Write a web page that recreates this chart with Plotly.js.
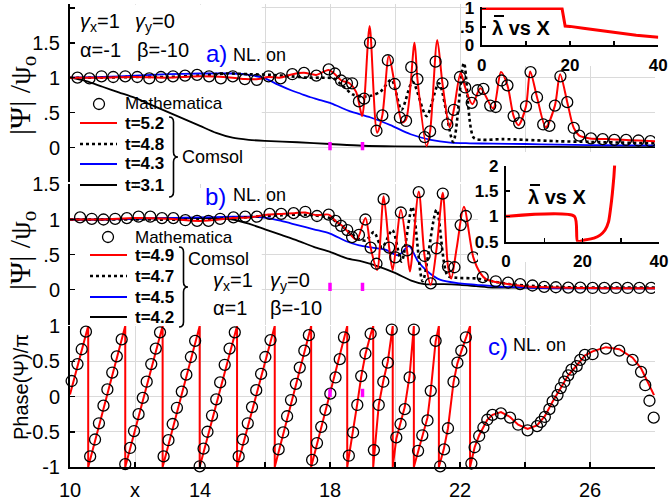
<!DOCTYPE html>
<html><head><meta charset="utf-8">
<script src="https://cdn.plot.ly/plotly-3.0.1.min.js"></script>
<style>html,body{margin:0;padding:0;background:#fff}#chart{width:669px;height:504px}</style>
</head><body><div id="chart"></div>
<script>
// ---------------- DATA ----------------
// x tick labels (shared x axis); minor ticks carry unlabeled grid positions
const xTickVals = [10,12,14,18,22,26];
const xTickText = ['10','x','14','18','22','26'];
const xMinorVals = [16,20,24,28];

// Panel a) |Psi|/psi_o
const aMathX = [10.23,10.6,10.97,11.33,11.7,12.07,12.44,12.8,13.17,13.54,13.91,14.28,14.64,15.01,15.38,15.75,16.11,16.48,16.84,17.2,17.58,17.96,18.15,18.34,18.52,18.68,18.89,19.05,19.23,19.43,19.61,19.78,19.99,20.15,20.34,20.5,20.69,20.91,21.08,21.25,21.46,21.61,21.81,22.0,22.16,22.36,22.54,22.72,22.93,23.1,23.28,23.46,23.65,23.82,24.03,24.17,24.37,24.56,24.75,24.92,25.09,25.3,25.5,25.67,26.03,26.39,26.75,27.11,27.49,27.86];
const aMathY = [1.0,0.99,1.02,1.01,1.02,1.01,0.99,1.01,1.02,1.03,1.04,1.02,0.99,1.02,0.98,0.97,1.02,0.99,1.05,1.07,1.03,1.12,1.06,0.96,0.92,0.92,0.66,0.70,1.50,0.24,0.46,1.25,0.91,0.43,0.38,1.15,0.98,0.15,0.23,1.23,0.92,0.33,0.54,1.01,0.86,0.64,0.82,0.84,0.60,0.58,0.96,0.89,0.45,0.35,0.59,1.08,0.72,0.33,0.31,0.60,1.02,0.65,0.28,0.17,0.13,0.12,0.11,0.11,0.10,0.09];
const aRedX = [10,11,12,13,14,15,15.4,15.8,16.1,16.45,16.85,17.2,17.58,17.95,18.15,18.35,18.6,18.8,18.99,19.06,19.22,19.45,19.61,19.81,19.99,20.22,20.34,20.6,20.69,20.97,21.08,21.3,21.46,21.68,21.81,22.02,22.16,22.38,22.63,23.02,23.26,23.46,23.65,23.8,24.03,24.16,24.37,24.64,24.92,25.08,25.3,25.5,25.67,26,26.5,27,27.5,28];
const aRedY = [1.0,1.0,1.01,1.0,1.02,1.0,0.98,0.98,1.01,1.0,1.05,1.07,1.04,1.11,1.05,0.96,0.92,0.8,0.45,0.7,1.74,0.21,0.46,1.31,0.91,0.36,0.4,1.5,0.98,0.02,0.23,1.54,0.92,0.29,0.54,1.07,0.86,0.62,0.85,0.56,1.08,0.89,0.45,0.32,0.59,1.09,0.72,0.29,0.6,1.05,0.65,0.28,0.17,0.13,0.12,0.11,0.1,0.09];
const aDotX = [10,11,12,13,14,14.8,15.5,16.2,16.8,17.3,17.8,18.1,18.4,18.7,19.0,19.25,19.55,19.89,20.2,20.54,20.97,21.35,21.79,22.12,22.42,22.7,23.3,24,25,26,27,28];
const aDotY = [1.0,1.0,1.01,1.01,1.03,1.06,1.05,1.04,1.02,1.0,1.0,0.99,0.88,0.76,0.73,0.74,0.8,0.97,0.54,0.94,0.45,0.92,0.08,1.21,0.14,0.11,0.12,0.11,0.09,0.08,0.07,0.06];
const aBlueX = [10,11,12,13,14,15,15.5,16,16.4,16.8,17.1,17.4,17.7,18,18.3,18.6,19.25,19.86,20.48,21.1,21.7,22.3,23,24,25,26,27,28];
const aBlueY = [1.0,1.01,1.03,1.05,1.06,1.06,1.04,0.99,0.9,0.82,0.77,0.72,0.68,0.64,0.58,0.52,0.43,0.32,0.19,0.11,0.07,0.06,0.055,0.05,0.04,0.035,0.03,0.03];
const aBlackX = [10,10.5,11,11.5,12,12.5,13,13.5,14,14.5,15,15.5,16,17,18,19,20,22,24,26,28];
const aBlackY = [1.0,0.95,0.87,0.79,0.71,0.61,0.51,0.41,0.31,0.21,0.14,0.11,0.095,0.075,0.05,0.025,0.015,0.01,0.01,0.005,0.005];

// Panel b)
const bMathX = [10.31,10.67,11.03,11.39,11.75,12.11,12.47,12.83,13.18,13.55,13.91,14.26,14.62,15.03,15.39,15.75,16.14,16.5,16.88,17.24,17.6,17.96,18.17,18.34,18.53,18.68,18.89,19.09,19.25,19.43,19.65,19.82,20.01,20.18,20.37,20.73,20.91,21.1,21.28,21.47,21.63,21.83,22.02,22.18,22.41,22.7,23.1,23.48,23.85,24.23,24.59,24.95,25.33,25.7,26.08,26.44,26.8,27.16,27.52,27.88];
const bMathY = [1.03,1.01,1.0,1.01,1.02,1.04,1.04,1.02,1.02,0.99,0.98,0.98,1.01,1.03,1.04,1.04,1.08,1.08,1.09,1.11,1.05,1.07,0.98,0.91,0.85,0.75,0.78,1.0,0.6,0.37,1.29,0.6,0.46,1.1,0.56,1.39,0.48,0.09,0.59,1.37,0.33,0.32,0.92,1.05,0.46,0.18,0.12,0.1,0.08,0.06,0.04,0.035,0.03,0.03,0.025,0.025,0.025,0.025,0.025,0.025];
const bRedX = [10,11,12,13,14,15,15.5,16.1,16.5,16.9,17.24,17.6,17.96,18.17,18.4,18.6,18.82,19.09,19.25,19.45,19.65,19.82,19.93,20.18,20.37,20.46,20.73,20.91,21.1,21.28,21.47,21.63,21.73,21.9,22.12,22.41,22.62,22.8,23.1,23.5,24,25,26,27,28];
const bRedY = [1.0,1.0,1.02,1.01,0.98,1.02,1.03,1.07,1.08,1.09,1.1,1.06,1.07,0.98,0.9,0.8,0.71,1.02,0.6,0.28,1.33,0.6,0.28,1.14,0.56,0.26,1.4,0.48,0.07,0.59,1.38,0.33,0.16,0.6,1.18,0.46,0.24,0.15,0.11,0.08,0.05,0.03,0.025,0.02,0.02];
const bDotX = [10,12,14,15,16,16.5,17,17.5,18,18.3,18.6,18.9,19.1,19.35,19.6,19.92,20.2,20.53,20.85,21.28,21.62,21.9,22.5,23,23.5,24,25,26,28];
const bDotY = [1.0,1.0,1.0,1.02,1.05,1.06,1.07,1.06,1.02,0.93,0.82,0.72,0.7,0.82,0.6,0.85,0.4,1.18,0.12,1.14,0.2,0.17,0.16,0.12,0.08,0.06,0.04,0.03,0.03];
const bBlueX = [10,11,12,13,14,15,15.6,16.1,16.5,17,17.5,18,18.5,18.9,19.3,19.7,20.1,20.43,20.7,21,21.4,22,22.5,23,24,25,28];
const bBlueY = [1.0,1.0,1.01,1.02,1.03,1.04,1.04,1.02,0.98,0.92,0.86,0.8,0.69,0.63,0.6,0.57,0.49,0.62,0.41,0.26,0.14,0.09,0.07,0.05,0.03,0.02,0.02];
const bBlackX = [10,11,12,13,14,14.5,15,15.5,16,16.5,17,17.5,18,18.5,19,19.5,20,20.5,20.9,21.5,22,22.5,23,24,28];
const bBlackY = [1.0,1.0,1.01,1.02,1.02,1.02,1.0,0.94,0.86,0.78,0.7,0.61,0.54,0.45,0.4,0.33,0.24,0.13,0.08,0.08,0.07,0.05,0.03,0.03,0.02];

// Panel c) Phase(Psi)/pi
const cMathX = [10.05,10.23,10.36,10.49,10.62,10.77,10.89,11.03,11.15,11.30,11.44,11.59,11.70,11.85,11.97,12.11,12.24,12.36,12.50,12.64,12.77,12.88,13.03,13.16,13.29,13.44,13.58,13.72,13.85,13.99,14.11,14.23,14.37,14.50,14.62,14.76,14.91,15.07,15.19,15.32,15.47,15.60,15.73,15.88,16.01,16.17,16.29,16.42,16.56,16.68,16.80,16.95,17.07,17.21,17.35,17.45,17.60,17.73,17.86,18.01,18.17,18.30,18.43,18.58,18.71,18.84,18.96,19.09,19.25,19.35,19.50,19.64,19.78,19.90,20.04,20.17,20.30,20.45,20.58,20.71,20.84,21.00,21.10,21.25,21.39,21.51,21.63,21.80,21.92,22.04,22.18,22.35,22.45,22.59,22.72,22.84,23.00,23.26,23.54,23.79,24.08,24.37,24.49,24.61,24.75,24.85,25.00,25.10,25.21,25.33,25.43,25.59,25.70,25.84,26.08,26.49,26.90,27.31,27.57,27.70,27.83,27.96];
const cMathY = [0.22,0.46,0.67,0.92,-0.85,-0.61,-0.38,-0.13,0.10,0.34,0.57,0.81,-0.96,-0.73,-0.49,-0.25,-0.02,0.21,0.46,0.68,0.91,-0.85,-0.62,-0.39,-0.16,0.07,0.31,0.56,0.79,-0.99,-0.74,-0.50,-0.27,-0.04,0.20,0.45,0.68,0.91,-0.85,-0.61,-0.38,-0.15,0.09,0.32,0.56,0.80,1.03,-0.75,-0.51,-0.28,-0.05,0.18,0.41,0.65,0.87,-0.90,-0.66,-0.43,-0.19,0.04,0.27,0.53,0.84,-0.84,-0.51,-0.12,0.29,0.61,0.89,-0.76,-0.12,0.21,0.48,0.95,-0.58,-0.39,-0.18,0.27,0.95,-0.77,-0.55,-0.34,0.08,0.79,-0.99,-0.75,-0.45,0.21,0.48,0.65,0.84,-0.95,-0.72,-0.56,-0.44,-0.33,-0.26,-0.24,-0.30,-0.40,-0.48,-0.42,-0.36,-0.29,-0.18,-0.07,0.02,0.12,0.21,0.30,0.38,0.43,0.52,0.59,0.60,0.68,0.65,0.52,0.35,0.16,-0.06,-0.30];
const cRedX = [10,10.56,10.56,11.7,11.7,12.85,12.85,13.99,13.99,15.14,15.14,16.3,16.3,17.42,17.42,18.53,18.53,18.71,18.84,18.96,19.09,19.25,19.33,19.33,19.5,19.64,19.78,19.93,19.93,20.04,20.17,20.3,20.45,20.58,20.58,20.71,20.84,21.0,21.1,21.25,21.35,21.35,21.5,21.63,21.8,21.92,22.04,22.18,22.31,22.31,22.35,22.45,22.59,22.72,22.84,23.0,23.26,23.54,23.79,24.08,24.37,24.61,24.85,25.1,25.33,25.59,25.84,26.08,26.49,26.9,27.31,27.57,27.83,27.97];
const cRedY = [0.03,1,-1,1,-1,1,-1,1,-1,1,-1,1,-1,1,-1,1,-1,-0.5,-0.1,0.28,0.6,0.88,1,-1,-0.12,0.22,0.5,1,-1,-0.6,-0.38,-0.15,0.3,1,-1,-0.77,-0.55,-0.3,0.08,0.78,1,-1,-0.75,-0.45,0.2,0.47,0.64,0.83,1,-1,-0.93,-0.72,-0.55,-0.43,-0.33,-0.26,-0.22,-0.29,-0.40,-0.46,-0.41,-0.28,-0.07,0.12,0.3,0.44,0.58,0.64,0.70,0.67,0.55,0.40,0.16,0.02];

// magenta markers
const magX = [18, 19];
const magA = [0.02, 0.02];
const magB = [0.04, 0.04];
const magC = [0.05, 0.05];

// insets: lambda-bar vs X
const insAX = [0, 18.2, 18.9, 20, 23, 26, 30, 35, 40];
const insAY = [1, 1, 0.52, 0.51, 0.46, 0.41, 0.34, 0.27, 0.21];
const insBX = [0, 17.9, 18.7, 20.4, 23.0, 24.6, 25.9, 26.8, 27.3, 27.8, 28.2, 28.4];
const insBY = [1, 1, 0.51, 0.53, 0.57, 0.63, 0.73, 0.89, 1.13, 1.45, 1.78, 2.01];

// legend labels
const legA = ['Mathematica','t=5.2','t=4.8','t=4.3','t=3.1'];
const legB = ['Mathematica','t=4.9','t=4.7','t=4.5','t=4.2'];

// ---------------- LAYOUT HELPERS ----------------
const W = 669, H = 504;
const PX = p => p / W;
const PY = p => 1 - p / H;
const FONT = 'Liberation Sans, Arial, Helvetica, sans-serif';
const RED = '#ff0000', BLUE = '#0000ff', BLK = '#000000', MAG = '#ff00ff';
const GRID = '#dadada';

const traces = [];
function line(x, y, ya, color, width, dash, shape) {
  traces.push({type:'scatter', mode:'lines', x, y, xaxis:'x', yaxis:ya,
    line:{color, width, dash: dash || 'solid', shape: shape || 'spline', smoothing: 0.8},
    hoverinfo:'skip', showlegend:false});
}
function circles(x, y, ya, clip) {
  traces.push({type:'scatter', mode:'markers', x, y, xaxis:'x', yaxis:ya,
    marker:{symbol:'circle-open', size:11, color:BLK, line:{width:1.3, color:BLK}},
    cliponaxis: clip, hoverinfo:'skip', showlegend:false});
}
function mags(y, ya) {
  traces.push({type:'scatter', mode:'markers', x: magX, y, xaxis:'x', yaxis:ya,
    marker:{symbol:'line-ns', size:6, line:{width:3.5, color:MAG}},
    hoverinfo:'skip', showlegend:false});
}
// panel a
line(aBlackX, aBlackY, 'y', BLK, 1.8);
line(aBlueX, aBlueY, 'y', BLUE, 1.8);
line(aDotX, aDotY, 'y', BLK, 2.6, 'dot');
line(aRedX, aRedY, 'y', RED, 2);
circles(aMathX, aMathY, 'y', true);
mags(magA, 'y');
// panel b
line(bBlackX, bBlackY, 'y2', BLK, 1.8);
line(bBlueX, bBlueY, 'y2', BLUE, 1.8);
line(bDotX, bDotY, 'y2', BLK, 2.6, 'dot');
line(bRedX, bRedY, 'y2', RED, 2);
circles(bMathX, bMathY, 'y2', true);
mags(magB, 'y2');
// panel c
line(cRedX, cRedY, 'y3', RED, 2, 'solid', 'linear');
circles(cMathX, cMathY, 'y3', false);
mags(magC, 'y3');
// white boxes behind insets (empty subplots)
traces.push({type:'scatter', mode:'markers', x:[null], y:[null], xaxis:'x4', yaxis:'y4', hoverinfo:'skip', showlegend:false});
traces.push({type:'scatter', mode:'markers', x:[null], y:[null], xaxis:'x5', yaxis:'y5', hoverinfo:'skip', showlegend:false});
// insets
traces.push({type:'scatter', mode:'lines', x:insAX, y:insAY, xaxis:'x6', yaxis:'y6', line:{color:RED, width:3}, hoverinfo:'skip', showlegend:false});
traces.push({type:'scatter', mode:'lines', x:insBX, y:insBY, xaxis:'x7', yaxis:'y7', line:{color:RED, width:3, shape:'spline', smoothing:0.6}, hoverinfo:'skip', showlegend:false, cliponaxis:false});

const axBase = {
  showline:true, linecolor:BLK, linewidth:2,
  ticks:'inside', ticklen:5, tickwidth:1.5, tickcolor:BLK,
  showgrid:true, gridcolor:GRID, gridwidth:1,
  zeroline:false, tickfont:{family:FONT, size:20, color:BLK}, fixedrange:true,
  ticklabeloverflow:'allow'
};
const insBase = {
  showline:true, linecolor:BLK, linewidth:2.2,
  ticks:'inside', ticklen:4, tickwidth:1.5, tickcolor:BLK,
  showgrid:false, zeroline:false, fixedrange:true, ticklabeloverflow:'allow',
  tickfont:{family:FONT, size:17, color:BLK, weight:'bold'}
};
const minorIns = vals => ({tickmode:'array', tickvals:vals, ticks:'inside', ticklen:4, tickwidth:1.5, tickcolor:BLK, showgrid:false});
const hidden = {visible:false, showgrid:false, zeroline:false, fixedrange:true, range:[0,1]};

const shapes = [];
// hide gridlines behind legend/text areas on the left of panels a, b
shapes.push({type:'rect', xref:'x', yref:'y', x0:10, x1:15.9, y0:-0.5, y1:2.05, fillcolor:'#fff', line:{width:0}, layer:'between'});
shapes.push({type:'rect', xref:'x', yref:'y2', x0:10, x1:15.9, y0:-0.5, y1:1.45, fillcolor:'#fff', line:{width:0}, layer:'between'});

// legend glyphs
function legLine(x0, x1, y, color, width, dash) {
  shapes.push({type:'line', xref:'paper', yref:'paper', x0:PX(x0), x1:PX(x1), y0:PY(y), y1:PY(y), line:{color, width, dash: dash || 'solid'}});
}
function legCircle(cx, cy) {
  shapes.push({type:'circle', xref:'paper', yref:'paper', x0:PX(cx-5.5), x1:PX(cx+5.5), y0:PY(cy+5.5), y1:PY(cy-5.5), line:{color:BLK, width:1.3}});
}
function brace(x, y0, y1, ym, w) {
  const P = (a, b) => PX(a).toFixed(5) + ',' + PY(b).toFixed(5);
  const xm = x + w / 2, xt = x + w;
  const d = 'M' + P(x, y0) + ' Q' + P(xm, y0) + ' ' + P(xm, y0 + 5) + ' L' + P(xm, ym - 5) +
            ' Q' + P(xm, ym) + ' ' + P(xt, ym) + ' Q' + P(xm, ym) + ' ' + P(xm, ym + 5) +
            ' L' + P(xm, y1 - 5) + ' Q' + P(xm, y1) + ' ' + P(x, y1);
  shapes.push({type:'path', xref:'paper', yref:'paper', path:d, line:{color:BLK, width:1.6}});
}
// bar over lambda in the inset titles
function overbar(x0, x1, y) {
  shapes.push({type:'line', xref:'paper', yref:'paper', x0:PX(x0), x1:PX(x1), y0:PY(y), y1:PY(y), line:{color:BLK, width:2}});
}
// panel a legend
legCircle(99, 104);
legLine(80, 117, 123, RED, 2);
legLine(80, 117, 144, BLK, 2.6, 'dot');
legLine(80, 117, 164, BLUE, 2);
legLine(80, 117, 185, BLK, 2);
brace(169, 117, 197, 157, 9);
// panel b legend
legCircle(108, 237);
legLine(90, 127, 255, RED, 2);
legLine(90, 127, 276, BLK, 2.6, 'dot');
legLine(90, 127, 297, BLUE, 2);
legLine(90, 127, 317, BLK, 2);
brace(179, 247, 327, 287, 9);

const annotations = [];
function txt(text, x, y, size, opts) {
  annotations.push(Object.assign({text, xref:'paper', yref:'paper', x:PX(x), y:PY(y), xanchor:'left', yanchor:'middle',
    showarrow:false, font:{family:FONT, size, color:BLK}}, opts || {}));
}
// panel a texts
txt('<i>γ</i><sub>x</sub>=1', 78, 23, 20);
txt('<i>γ</i><sub>y</sub>=0', 133, 23, 20);
txt('α=-1', 78, 50, 20);
txt('β=-10', 135, 50, 20);
txt('a)', 204, 54, 24, {font:{family:FONT, size:24, color:BLUE}});
txt('NL. on', 231, 55, 18);
txt(legA[0], 123, 104, 17);
txt('<b>' + legA[1] + '</b>', 123, 123, 17);
txt('<b>' + legA[2] + '</b>', 123, 144, 17);
txt('<b>' + legA[3] + '</b>', 123, 164, 17);
txt('<b>' + legA[4] + '</b>', 123, 185, 17);
txt('Comsol', 180, 157, 18);
// panel b texts
txt('b)', 203, 197, 24, {font:{family:FONT, size:24, color:BLUE}});
txt('NL. on', 231, 195, 18);
txt(legB[0], 133, 237, 17);
txt('<b>' + legB[1] + '</b>', 133, 255, 17);
txt('<b>' + legB[2] + '</b>', 133, 276, 17);
txt('<b>' + legB[3] + '</b>', 133, 297, 17);
txt('<b>' + legB[4] + '</b>', 133, 317, 17);
txt('Comsol', 186, 259, 18);
txt('<i>γ</i><sub>x</sub>=1', 211, 281, 20);
txt('<i>γ</i><sub>y</sub>=0', 268, 281, 20);
txt('α=1', 211, 308, 20);
txt('β=-10', 268, 308, 20);
// panel c texts
txt('c)', 486, 346, 24, {font:{family:FONT, size:24, color:BLUE}});
txt('NL. on', 511, 345, 18);
// inset labels (lambda with overbar)
txt('<b>λ vs X</b>', 490, 28, 20);
overbar(494, 504, 16);
txt('<b>λ vs X</b>', 526, 197, 20);
overbar(530, 540, 185);
// y-axis titles
annotations.push({text:'|Ψ| /ψ<sub>o</sub>', xref:'paper', yref:'paper', x:PX(22), y:PY(96), xanchor:'center', yanchor:'middle', textangle:-90, showarrow:false, font:{family:'Liberation Serif, Times New Roman, serif', size:30, color:BLK}});
annotations.push({text:'|Ψ| /ψ<sub>o</sub>', xref:'paper', yref:'paper', x:PX(22), y:PY(251), xanchor:'center', yanchor:'middle', textangle:-90, showarrow:false, font:{family:'Liberation Serif, Times New Roman, serif', size:30, color:BLK}});
annotations.push({text:'Phase(Ψ)/π', xref:'paper', yref:'paper', x:PX(21), y:PY(387), xanchor:'center', yanchor:'middle', textangle:-90, showarrow:false, font:{family:FONT, size:20, color:BLK}});

const layout = {
  width:W, height:H, margin:{l:0, r:0, t:0, b:0},
  paper_bgcolor:'#fff', plot_bgcolor:'#fff', showlegend:false,
  font:{family:FONT, color:BLK},
  xaxis: Object.assign({}, axBase, {domain:[PX(70), PX(655)], range:[10,28], anchor:'y3',
    tickmode:'array', tickvals:xTickVals, ticktext:xTickText, ticklabelstandoff:4,
    minor:{tickmode:'array', tickvals:xMinorVals, ticks:'inside', ticklen:5, tickwidth:1.5, tickcolor:BLK, showgrid:true, gridcolor:GRID, gridwidth:1}}),
  yaxis: Object.assign({}, axBase, {domain:[PY(182.4), PY(4.4)], range:[-0.5, 2.05], anchor:'x',
    tickmode:'array', tickvals:[0,0.5,1,1.5], ticktext:['0','.5','1','1.5'], ticklabelstandoff:4,
    minor:{tickmode:'array', tickvals:[2], ticks:'inside', ticklen:5, tickwidth:1.5, tickcolor:BLK, showgrid:true, gridcolor:GRID, gridwidth:1}}),
  yaxis2: Object.assign({}, axBase, {domain:[PY(324.8), PY(184.4)], range:[-0.5, 1.5], anchor:'x',
    tickmode:'array', tickvals:[0,0.5,1,1.5], ticktext:['0','.5','1','1.5'], ticklabelstandoff:4}),
  yaxis3: Object.assign({}, axBase, {domain:[PY(467), PY(326)], range:[-1, 1], anchor:'x',
    tickmode:'array', tickvals:[-1,-0.5,0,0.5,1], ticktext:['-1','-0.5','0','0.5','1'], ticklabelstandoff:4}),
  xaxis4: Object.assign({}, hidden, {domain:[PX(467), 1], anchor:'y4'}),
  yaxis4: Object.assign({}, hidden, {domain:[PY(66), 1], anchor:'x4'}),
  xaxis5: Object.assign({}, hidden, {domain:[PX(478), 1], anchor:'y5'}),
  yaxis5: Object.assign({}, hidden, {domain:[PY(262), PY(152)], anchor:'x5'}),
  xaxis6: Object.assign({}, insBase, {domain:[PX(481.7), PX(658.3)], range:[0,40], anchor:'y6',
    tickmode:'array', tickvals:[0,20,40], ticktext:['0','20','40'], ticklabelstandoff:3, minor:minorIns([10,30])}),
  yaxis6: Object.assign({}, insBase, {domain:[PY(45), PY(7.4)], range:[0,1.03], anchor:'x6',
    tickmode:'array', tickvals:[0,0.5,1], ticktext:['0','.5','1'], ticklabelstandoff:2}),
  xaxis7: Object.assign({}, insBase, {domain:[PX(506), PX(659)], range:[0,40], anchor:'y7',
    tickmode:'array', tickvals:[0,20,40], ticktext:['0','20','40'], ticklabelstandoff:3, minor:minorIns([10,30])}),
  yaxis7: Object.assign({}, insBase, {domain:[PY(241.7), PY(165.6)], range:[0.5,2.0], anchor:'x7',
    tickmode:'array', tickvals:[0.5,1,1.5,2], ticktext:['0.5','1','1.5','2'], ticklabelstandoff:2}),
  shapes, annotations
};

Plotly.newPlot('chart', traces, layout, {staticPlot:true, displayModeBar:false});
</script></body></html>
